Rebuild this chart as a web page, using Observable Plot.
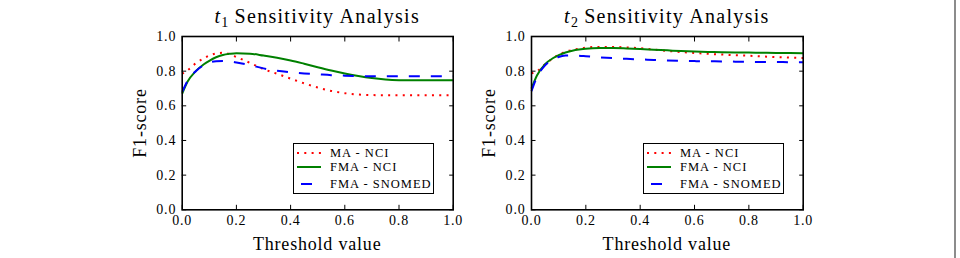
<!DOCTYPE html>
<html>
<head>
<meta charset="utf-8">
<script src="https://cdn.jsdelivr.net/npm/d3@7"></script>
<script src="https://cdn.jsdelivr.net/npm/@observablehq/plot@0.6"></script>
<style>
  html, body { margin: 0; padding: 0; background: #fff; }
  #wrap { position: relative; width: 960px; height: 258px; overflow: hidden; font-family: "Liberation Serif", serif; color: #000; }
  #wrap svg { font-family: "Liberation Serif", serif !important; font-size: 14px !important; background: transparent !important; }
  #wrap svg text { font-family: "Liberation Serif", serif !important; }
  #wrap svg g[aria-label="x-axis tick label"], #wrap svg g[aria-label="y-axis tick label"] { font-size: 14px; letter-spacing: 0.8px; }
  .panel { position: absolute; top: 0; }
  .title { position: absolute; top: 4px; font-size: 20px; letter-spacing: 1.3px; white-space: nowrap; text-align: center; line-height: 24px; }
  .title sub { font-size: 14px; letter-spacing: 0; vertical-align: -4px; line-height: 0; }
  .axlab { position: absolute; font-size: 18px; letter-spacing: 0.8px; white-space: nowrap; text-align: center; line-height: 20px; }
  .ylab { transform: rotate(-90deg); transform-origin: center center; }
  .legend { position: absolute; box-sizing: border-box; width: 141px; height: 51px; border: 1.5px solid #000; background: #fff; }
  .row { position: absolute; left: 0; height: 14px; width: 140px; }
  .row svg { position: absolute; left: 3px; top: 0; }
  .row span { position: absolute; left: 36px; top: 0; font-size: 12.5px; letter-spacing: 1px; line-height: 14px; white-space: nowrap; }
  #border { position: absolute; left: 953.5px; top: 0; width: 2px; height: 258px; background: #8c8c8c; }
</style>
</head>
<body>
<div id="wrap"><div id="border"></div></div>
<script>
// ---- data ----
const thresholds = [0, 0.02, 0.05, 0.08, 0.1, 0.125, 0.15, 0.175, 0.2, 0.25, 0.3, 0.35, 0.4, 0.45, 0.5, 0.55, 0.6, 0.65, 0.7, 0.75, 0.8, 0.85, 0.9, 0.95, 1.0];

// t1 panel
const t1_MA_NCI     = [0.785, 0.805, 0.845, 0.875, 0.89, 0.902, 0.906, 0.898, 0.882, 0.848, 0.812, 0.785, 0.757, 0.73, 0.706, 0.686, 0.673, 0.665, 0.662, 0.661, 0.661, 0.661, 0.661, 0.661, 0.661];
const t1_FMA_NCI    = [0.67, 0.74, 0.8, 0.84, 0.86, 0.88, 0.893, 0.9, 0.904, 0.901, 0.89, 0.878, 0.862, 0.843, 0.823, 0.804, 0.787, 0.772, 0.76, 0.752, 0.748, 0.747, 0.747, 0.747, 0.747];
const t1_FMA_SNOMED = [0.68, 0.745, 0.8, 0.835, 0.85, 0.857, 0.858, 0.856, 0.85, 0.835, 0.816, 0.803, 0.794, 0.787, 0.782, 0.777, 0.774, 0.772, 0.771, 0.771, 0.771, 0.771, 0.771, 0.771, 0.771];

// t2 panel
const t2_MA_NCI     = [0.788, 0.8, 0.84, 0.875, 0.895, 0.912, 0.922, 0.93, 0.936, 0.94, 0.94, 0.937, 0.932, 0.925, 0.917, 0.91, 0.905, 0.9, 0.896, 0.892, 0.889, 0.885, 0.881, 0.878, 0.876];
const t2_FMA_NCI    = [0.7, 0.775, 0.84, 0.876, 0.892, 0.908, 0.918, 0.925, 0.93, 0.933, 0.933, 0.931, 0.928, 0.924, 0.92, 0.916, 0.913, 0.911, 0.909, 0.908, 0.907, 0.906, 0.905, 0.905, 0.904];
const t2_FMA_SNOMED = [0.685, 0.765, 0.833, 0.868, 0.882, 0.89, 0.891, 0.889, 0.886, 0.88, 0.875, 0.871, 0.868, 0.865, 0.862, 0.86, 0.858, 0.857, 0.856, 0.855, 0.854, 0.853, 0.853, 0.852, 0.852];

const seriesNames = ["MA - NCI", "FMA - NCI", "FMA - SNOMED"];
const xTicks = [0, 0.2, 0.4, 0.6, 0.8, 1.0];
const yTicks = [0, 0.2, 0.4, 0.6, 0.8, 1.0];
const titles = [["t", "1", " Sensitivity Analysis"], ["t", "2", " Sensitivity Analysis"]];
const xLabel = "Threshold value";
const yLabel = "F1-score";

// ---- styles ----
const styles = {
  "MA - NCI":     {stroke: "#ff0000", strokeWidth: 2, strokeDasharray: "2,5.3", strokeLinecap: "butt"},
  "FMA - NCI":    {stroke: "#008000", strokeWidth: 2, strokeDasharray: null, strokeLinecap: "butt"},
  "FMA - SNOMED": {stroke: "#0000ff", strokeWidth: 2, strokeDasharray: "11,11", strokeLinecap: "butt"}
};

function rows(vals) {
  return thresholds.map((t, i) => ({t, v: vals[i]}));
}

function makePanel(seriesVals, opts) {
  const W = 480, H = 258;
  const marks = [];
  seriesVals.forEach((vals, i) => {
    const s = styles[seriesNames[i]];
    marks.push(Plot.line(rows(vals), {x: "t", y: "v", stroke: s.stroke, strokeWidth: s.strokeWidth,
      strokeDasharray: s.strokeDasharray, strokeLinecap: s.strokeLinecap, curve: "monotone-x"}));
  });
  // inward ticks on all four sides
  marks.push(Plot.axisX(xTicks, {anchor: "bottom", tickSize: -4.5, fill: "none", label: null, strokeWidth: 1}));
  marks.push(Plot.axisX(xTicks, {anchor: "top", tickSize: -4.5, fill: "none", label: null, strokeWidth: 1}));
  marks.push(Plot.axisY(yTicks, {anchor: "left", tickSize: -4.5, fill: "none", label: null, strokeWidth: 1}));
  marks.push(Plot.axisY(yTicks, {anchor: "right", tickSize: -4.5, fill: "none", label: null, strokeWidth: 1}));
  // tick labels
  marks.push(Plot.axisX(xTicks, {anchor: "bottom", tickSize: 0, tickPadding: 5.5, label: null, tickFormat: d3.format(".1f"), fontFamily: "Liberation Serif"}));
  marks.push(Plot.axisY(yTicks, {anchor: "left", tickSize: 0, tickPadding: 6, label: null, tickFormat: d3.format(".1f"), fontFamily: "Liberation Serif"}));
  marks.push(Plot.frame({stroke: "#000", strokeWidth: 1.6}));
  return Plot.plot({
    width: W, height: H,
    marginLeft: opts.ml, marginRight: W - opts.ml - opts.pw, marginTop: 36, marginBottom: H - 36 - 173.3,
    x: {domain: [0, 1]},
    y: {domain: [0, 1]},
    marks
  });
}

const wrap = document.getElementById("wrap");
const panels = [
  {left: 0, ml: 181.7, pw: 271, data: [t1_MA_NCI, t1_FMA_NCI, t1_FMA_SNOMED], title: titles[0], legend: {x: 293, y: 143}},
  {left: 480, ml: 51, pw: 271.7, data: [t2_MA_NCI, t2_FMA_NCI, t2_FMA_SNOMED], title: titles[1], legend: {x: 643, y: 143}}
];

panels.forEach(p => {
  const div = document.createElement("div");
  div.className = "panel";
  div.style.left = p.left + "px";
  div.appendChild(makePanel(p.data, p));
  wrap.appendChild(div);

  const cx = p.left + p.ml + p.pw / 2;
  // title
  const tt = document.createElement("div");
  tt.className = "title";
  tt.style.left = (cx - 150) + "px";
  tt.style.width = "300px";
  tt.innerHTML = `<i>${p.title[0]}</i><sub>${p.title[1]}</sub>${p.title[2]}`;
  wrap.appendChild(tt);

  // x axis label
  const xl = document.createElement("div");
  xl.className = "axlab";
  xl.style.left = (cx - 100) + "px";
  xl.style.width = "200px";
  xl.style.top = "234px";
  xl.textContent = xLabel;
  wrap.appendChild(xl);

  // y axis label
  const yl = document.createElement("div");
  yl.className = "axlab ylab";
  const ycx = p.left + p.ml - 42, ycy = 36 + 173.3 / 2;
  yl.style.left = (ycx - 50) + "px";
  yl.style.width = "100px";
  yl.style.top = (ycy - 10) + "px";
  yl.textContent = yLabel;
  wrap.appendChild(yl);

  // legend
  const lg = document.createElement("div");
  lg.className = "legend";
  lg.style.left = p.legend.x + "px";
  lg.style.top = p.legend.y + "px";
  const tops = [1.5, 16, 32.5];
  seriesNames.forEach((name, i) => {
    const s = styles[name];
    const r = document.createElement("div");
    r.className = "row";
    r.style.top = tops[i] + "px";
    r.innerHTML = `<svg width="26" height="14"><line x1="0" x2="24" y1="7" y2="7" stroke="${s.stroke}" stroke-width="${s.strokeWidth}" ${s.strokeDasharray ? `stroke-dasharray="${s.strokeDasharray}"` : ""} ${name === "FMA - SNOMED" ? 'stroke-dashoffset="-4"' : ""}/></svg><span>${name}</span>`;
    lg.appendChild(r);
  });
  wrap.appendChild(lg);
});
</script>
</body>
</html>
